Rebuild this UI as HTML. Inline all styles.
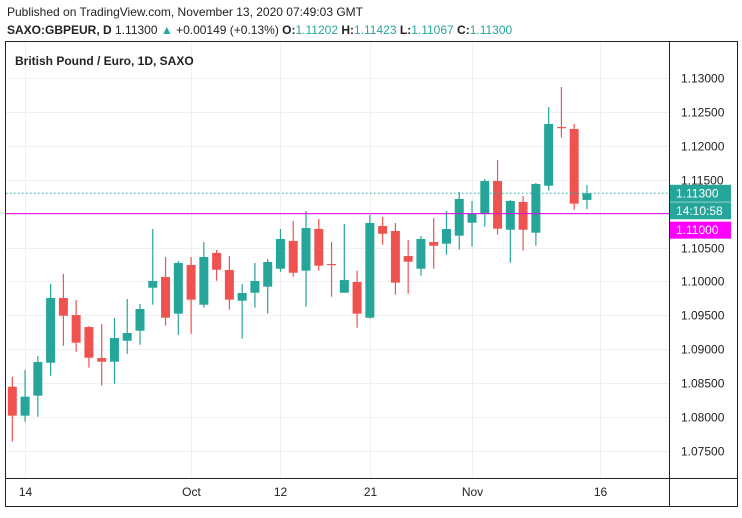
<!DOCTYPE html>
<html><head><meta charset="utf-8">
<style>
body{margin:0;background:#fff;width:742px;height:513px;overflow:hidden;font-family:"Liberation Sans",sans-serif;}
svg text{font-family:"Liberation Sans",sans-serif;}
</style></head>
<body>
<svg id="chart" width="742" height="513" xmlns="http://www.w3.org/2000/svg">
<text x="7" y="16" font-size="12" fill="#222">Published on TradingView.com, November 13, 2020 07:49:03 GMT</text>
<text x="7" y="34" font-size="12" fill="#222"><tspan font-weight="bold">SAXO:GBPEUR, D</tspan> 1.11300 <tspan fill="#26a69a">▲</tspan> +0.00149 (+0.13%) <tspan font-weight="bold">O:</tspan><tspan fill="#26a69a">1.11202</tspan> <tspan font-weight="bold">H:</tspan><tspan fill="#26a69a">1.11423</tspan> <tspan font-weight="bold">L:</tspan><tspan fill="#26a69a">1.11067</tspan> <tspan font-weight="bold">C:</tspan><tspan fill="#26a69a">1.11300</tspan></text>
<rect x="5.5" y="41.5" width="732" height="465" fill="none" stroke="#222" stroke-width="1"/>
<g id="grid"></g>
<g id="candles"></g>
<g id="overlay"></g>
<line x1="669.5" y1="42" x2="669.5" y2="506" stroke="#222"/>
<line x1="6" y1="478.5" x2="737" y2="478.5" stroke="#222"/>
<text x="15" y="65" font-size="12" font-weight="bold" fill="#222">British Pound / Euro, 1D, SAXO</text>
<g id="axes"></g>
</svg>
<script>
const opens  = [1.08448,1.08021,1.08316,1.08802,1.09756,1.09505,1.09328,1.08871,1.08817,1.09126,1.09274,1.09908,1.10066,1.09525,1.10243,1.09657,1.10420,1.10169,1.09716,1.09834,1.09923,1.10188,1.10597,1.10159,1.10774,1.10257,1.09834,1.09992,1.09466,1.10818,1.10744,1.10375,1.10188,1.10582,1.10557,1.10675,1.10866,1.10999,1.11481,1.10763,1.11172,1.10719,1.11412,1.12277,1.12248,1.11202];
const highs  = [1.08596,1.08694,1.08901,1.09963,1.10110,1.09727,1.09339,1.09373,1.09461,1.09741,1.09668,1.10774,1.10361,1.10302,1.10361,1.10582,1.10464,1.10375,1.09963,1.10272,1.10331,1.10774,1.10891,1.11039,1.10921,1.10582,1.10847,1.10159,1.10980,1.10950,1.10862,1.10611,1.10670,1.10936,1.11039,1.11319,1.11186,1.11511,1.11791,1.11201,1.11260,1.11452,1.12572,1.12867,1.12322,1.11423];
const lows   = [1.07637,1.07932,1.08006,1.08610,1.09053,1.08964,1.08728,1.08463,1.08492,1.08935,1.09068,1.09657,1.09348,1.09215,1.09230,1.09613,1.10011,1.09584,1.09156,1.09613,1.09525,1.10144,1.10070,1.09628,1.10159,1.09775,1.09834,1.09318,1.09451,1.10542,1.09805,1.09820,1.10085,1.10188,1.10395,1.10468,1.10513,1.10807,1.10690,1.10277,1.10454,1.10527,1.11338,1.12120,1.11058,1.11067];
const closes = [1.08021,1.08301,1.08812,1.09756,1.09495,1.09097,1.08876,1.08817,1.09166,1.09240,1.09594,1.10007,1.09466,1.10272,1.09731,1.10361,1.10173,1.09731,1.09830,1.10007,1.10287,1.10626,1.10129,1.10788,1.10232,1.10249,1.10021,1.09525,1.10862,1.10704,1.09982,1.10291,1.10626,1.10527,1.10774,1.11216,1.10999,1.11481,1.10778,1.11186,1.10763,1.11437,1.12322,1.12267,1.11147,1.11300];
const priceTicks = [1.13,1.125,1.12,1.115,1.11,1.105,1.10,1.095,1.09,1.085,1.08,1.075];
const timeLabels = ["14","Oct","12","21","Nov","16"];
const timeLabelIdx = [1,14,21,28,36,46];
const lastPrice = 1.113;
const linePrice = 1.11;

const NS="http://www.w3.org/2000/svg";
function xOf(i){return 12.3+i*12.77;}
function yOf(p){return 78+(1.13-p)*6782;}
function mk(tag,attrs,parent){const e=document.createElementNS(NS,tag);for(const k in attrs)e.setAttribute(k,attrs[k]);parent.appendChild(e);return e;}
const grid=document.getElementById('grid'),cg=document.getElementById('candles'),ax=document.getElementById('axes'),ov=document.getElementById('overlay');
priceTicks.forEach(p=>{
  const y=Math.round(yOf(p))+0.5;
  const l=mk('line',{x1:6,x2:669,y1:y,y2:y,stroke:'#f0f0f0'},grid);
  
  
  const t=mk('text',{x:681,y:y+4,'font-size':12,fill:'#222'},ax);
  
  
  t.textContent=p.toFixed(5);
});
timeLabels.forEach((s,k)=>{
  const x=Math.round(xOf(timeLabelIdx[k]))+0.5;
  const l=mk('line',{x1:x,x2:x,y1:42,y2:478,stroke:'#f0f0f0'},grid);
  
  
  const t=mk('text',{x:x,y:496,'font-size':12,fill:'#222','text-anchor':'middle'},ax);
  
  
  t.textContent=s;
});
opens.forEach((o,i)=>{
  const c=closes[i],up=c>=o,col=up?'#26a69a':'#ef5350',x=xOf(i);
  const w=mk('line',{x1:x,x2:x,y1:yOf(highs[i]),y2:yOf(lows[i]),stroke:col,'stroke-width':1.2},cg);
  
  
  const top=yOf(Math.max(o,c)),h=Math.max(1.2,yOf(Math.min(o,c))-top);
  const b=mk('rect',{x:x-4.5,y:top,width:9,height:h,fill:col},cg);
  
  
});
const ly=yOf(lastPrice);
const dl=mk('line',{x1:6,x2:669,y1:ly,y2:ly,stroke:'#26a69a','stroke-dasharray':'1.5 2.5'},ov);


const hy=yOf(linePrice);
const hl=mk('line',{x1:6,x2:669,y1:hy,y2:hy,stroke:'#e600e6','stroke-width':1},ov);


function tag(y,fill,txt,name){
  const r=mk('rect',{x:670,y:y-8.5,width:61,height:17,fill:fill},ax);
  
  
  const t=mk('text',{x:676,y:y+4,'font-size':12,fill:'#fff'},ax);
  
  
  t.textContent=txt;
}
tag(ly,'#26a69a',lastPrice.toFixed(5),'last-price-tag');
tag(ly+17.5,'#26a69a','14:10:58','countdown-tag');
tag(hy+16.5,'#ff00ff',linePrice.toFixed(5),'level-price-tag');
</script>
</body></html>
